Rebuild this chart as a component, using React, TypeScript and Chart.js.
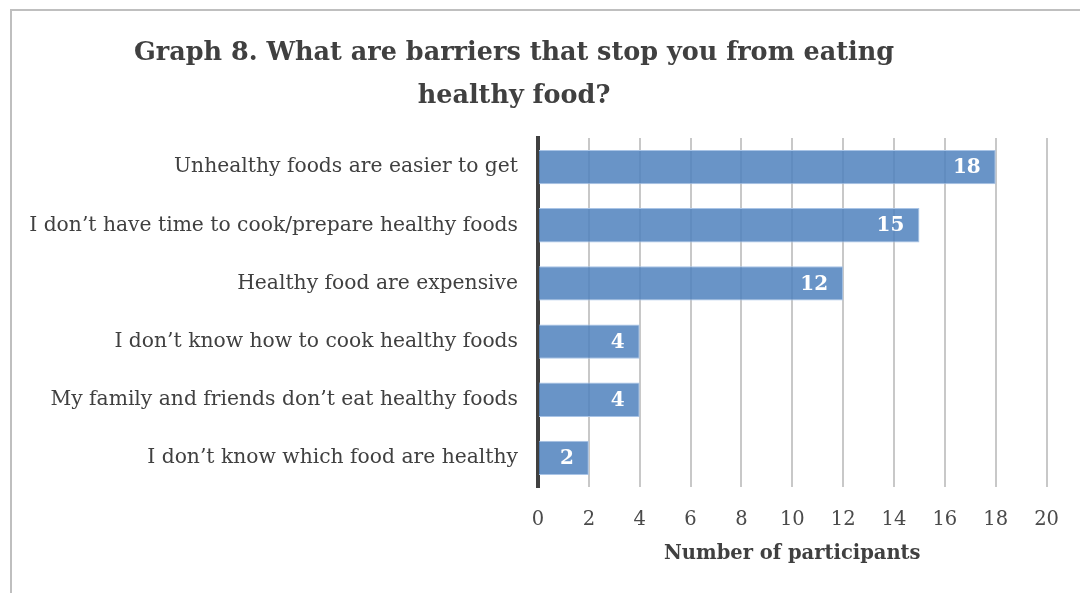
import React, { useEffect, useRef } from "react";
import { Chart, registerables } from "chart.js";

Chart.register(...registerables);

// Survey responses, top to bottom
const barriers: string[] = [
  "Unhealthy foods are easier to get",
  "I don\u2019t have time to cook/prepare healthy foods",
  "Healthy food are expensive",
  "I don\u2019t know how to cook healthy foods",
  "My family and friends don\u2019t eat healthy foods",
  "I don\u2019t know which food are healthy",
];
const participants: number[] = [18, 15, 12, 4, 4, 2];

const titleLines: string[] = [
  "Graph 8. What are barriers that stop you from eating",
  "healthy food?",
];
const axisTitle = "Number of participants";

const FONT = "'DejaVu Serif', serif";
const TEXT = "#404040";

// Two-line heading drawn above the plot
const headingPlugin = {
  id: "heading",
  afterDraw(chart: Chart) {
    const ctx = chart.ctx;
    ctx.save();
    ctx.fillStyle = TEXT;
    ctx.font = `bold 25.5px ${FONT}`;
    ctx.textAlign = "center";
    ctx.textBaseline = "middle";
    const ys = [53, 96];
    titleLines.forEach((line, i) => ctx.fillText(line, 514, ys[i]));
    ctx.restore();
  },
};

// White value labels at the inner end of each bar
const valueLabelPlugin = {
  id: "valueLabels",
  afterDatasetsDraw(chart: Chart) {
    const ctx = chart.ctx;
    const meta = chart.getDatasetMeta(0);
    ctx.save();
    ctx.fillStyle = "#ffffff";
    ctx.font = `bold 20px ${FONT}`;
    ctx.textAlign = "right";
    ctx.textBaseline = "middle";
    meta.data.forEach((el: any, i: number) => {
      ctx.fillText(String(participants[i]), el.x - 15, el.y + 1);
    });
    ctx.restore();
  },
};

export default function App() {
  const canvasRef = useRef<HTMLCanvasElement | null>(null);

  useEffect(() => {
    if (!canvasRef.current) return;
    const chart = new Chart(canvasRef.current, {
      type: "bar",
      data: {
        labels: barriers,
        datasets: [
          {
            data: participants,
            backgroundColor: "rgba(79,129,189,0.85)",
            borderColor: "#A9C4E6",
            borderWidth: 1,
            categoryPercentage: 1,
            barPercentage: 0.59,
          },
        ],
      },
      plugins: [headingPlugin, valueLabelPlugin],
      options: {
        indexAxis: "y",
        animation: false,
        responsive: false,
        maintainAspectRatio: false,
        layout: { padding: { top: 138, right: 33, bottom: 26, left: 0 } },
        plugins: {
          legend: { display: false },
          title: { display: false },
          tooltip: { enabled: false },
        },
        scales: {
          x: {
            min: 0,
            max: 20,
            ticks: {
              stepSize: 2,
              color: "#4a4a4a",
              font: { family: FONT, size: 19.5 },
              padding: 21,
            },
            grid: { color: "#C8C8C8", lineWidth: 2, drawTicks: false },
            border: { display: false },
            title: {
              display: true,
              text: axisTitle,
              color: TEXT,
              font: { family: FONT, size: 19.5, weight: "bold" },
              padding: { top: 0, bottom: 1 },
            },
            afterFit(scale: any) {
              scale.height = 80;
            },
          },
          y: {
            ticks: {
              color: TEXT,
              font: { family: FONT, size: 20.3 },
              padding: 20,
            },
            grid: { display: false, drawTicks: false },
            border: { display: true, color: "#404040", width: 4 },
            afterFit(scale: any) {
              scale.width = 538;
            },
          },
        },
      },
    });
    return () => chart.destroy();
  }, []);

  return (
    <div
      style={{
        position: "fixed",
        left: 0,
        top: 0,
        width: 1080,
        height: 593,
        background: "#ffffff",
      }}
    >
      <div
        style={{
          position: "absolute",
          left: 10,
          top: 9,
          width: 1070,
          height: 584,
          borderTop: "2px solid #BFBFBF",
          borderLeft: "2px solid #BFBFBF",
          boxSizing: "border-box",
        }}
      />
      <canvas
        ref={canvasRef}
        width={1080}
        height={593}
        style={{ position: "absolute", left: 0, top: 0 }}
      />
    </div>
  );
}
